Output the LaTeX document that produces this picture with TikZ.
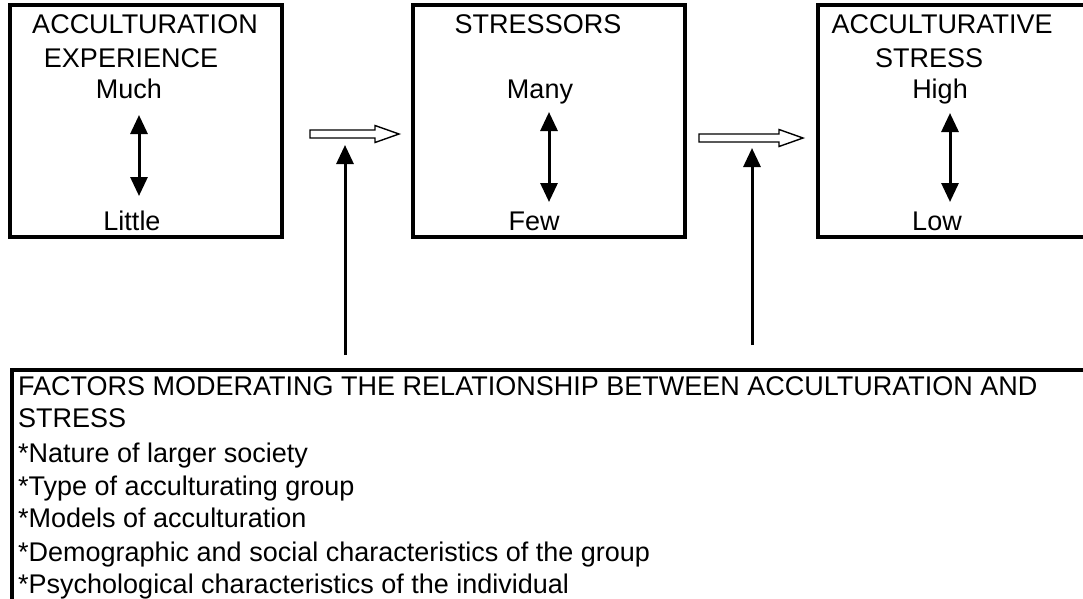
\documentclass[tikz,border=0pt]{standalone}
\usepackage{fontspec}
\setmainfont{Liberation Sans}
\usetikzlibrary{arrows.meta,calc}

% hollow block arrow from #1 to the tip #2
\newcommand\fatarrow[2]{%
  \draw[fat] ($(#1)+(0,4)$) -- ($(#2)+(-24,4)$) -- ($(#2)+(-24,8.5)$) -- (#2)
    -- ($(#2)+(-24,-8.5)$) -- ($(#2)+(-24,-4)$) -- ($(#1)+(0,-4)$) -- cycle;}

\begin{document}
\begin{tikzpicture}[x=1pt,y=-1pt,
    stage/.style={draw, line width=3.5pt, inner sep=0pt, minimum width=272pt, minimum height=232pt},
    lbl/.style={anchor=base, inner sep=0pt, font=\fontsize{27}{31}\selectfont},
    listitem/.style={anchor=base west, inner sep=0pt, font=\fontsize{27}{31}\selectfont},
    spanarrow/.style={line width=3pt, {Triangle[width=17pt,length=19pt]}-{Triangle[width=17pt,length=19pt]}},
    moderate/.style={line width=3pt, -{Triangle[width=17pt,length=19pt]}},
    fat/.style={line width=1.4pt, line join=miter, fill=white}]
            \clip (0,0) rectangle (1083,598);

            \node[stage] (experience) at (146,121) {};
            \node[stage] (stressors) at (549,121) {};
            \node[stage, minimum width=290pt] (stress) at (963,121) {};
            \node[stage, anchor=north west, minimum width=1100pt, minimum height=260pt] (factors) at (10,368) {};

            \node[lbl] (acc) at (145,33) {ACCULTURATION};
            \node[lbl] (exp) at (131,67) {EXPERIENCE};
            \node[lbl] (much) at (129,98) {Much};
            \node[lbl] (little) at (132,230) {Little};

            \node[lbl] (str) at (538,33) {STRESSORS};
            \node[lbl] (many) at (540,98) {Many};
            \node[lbl] (few) at (534,230) {Few};

            \node[lbl] (accst) at (942,33) {ACCULTURATIVE};
            \node[lbl] (st) at (929,67) {STRESS};
            \node[lbl] (high) at (940,98) {High};
            \node[lbl] (low) at (937,230) {Low};

            \foreach \yy/\txt [count=\i] in {395/FACTORS MODERATING THE RELATIONSHIP BETWEEN ACCULTURATION AND,
                427/STRESS, 462/*Nature of larger society, 495/*Type of acculturating group,
                527/*Models of acculturation, 561/*Demographic and social characteristics of the group,
                593/*Psychological characteristics of the individual}
              \node[listitem] (f\i) at (18,\yy) {\txt};

            \coordinate (r1top) at (139,115);
            \coordinate (r1bot) at (139,196);
            \coordinate (r2top) at (549,112);
            \coordinate (r2bot) at (549,202);
            \coordinate (r3top) at (950,113);
            \coordinate (r3bot) at (950,202);
            \draw[spanarrow] (r1top) -- (r1bot);
            \draw[spanarrow] (r2top) -- (r2bot);
            \draw[spanarrow] (r3top) -- (r3bot);

            \coordinate (f1s) at (310,134);
            \coordinate (f1e) at (399,134);
            \coordinate (f2s) at (699,138);
            \coordinate (f2e) at (803,138);
            \fatarrow{f1s}{f1e}
            \fatarrow{f2s}{f2e}

            \coordinate (modA) at (345,355);
            \coordinate (tipA) at (345,145);
            \coordinate (modB) at (752,345);
            \coordinate (tipB) at (752,148);
            \draw[moderate] (modA) -- (tipA);
            \draw[moderate] (modB) -- (tipB);
        \end{tikzpicture}
\end{document}
